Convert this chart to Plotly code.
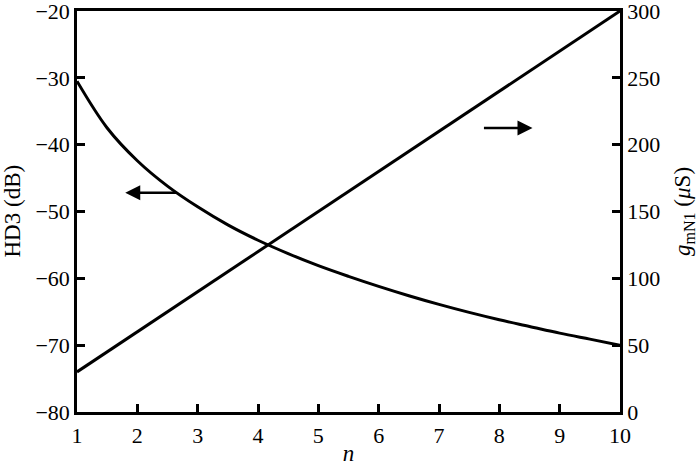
import plotly.graph_objects as go

n_vals = [1, 1.5, 2, 2.5, 3, 3.5, 4, 4.5, 5, 5.5, 6, 6.5, 7, 7.5, 8, 8.5, 9, 9.5, 10]
hd3_db = [-30.5, -37.5, -42.4, -46.2, -49.3, -52.0, -54.3, -56.3, -58.1, -59.7,
          -61.2, -62.6, -63.9, -65.1, -66.2, -67.2, -68.2, -69.1, -70.0]
gm_n = [1, 10]
gm_us = [30, 300]

x_ticks = [1, 2, 3, 4, 5, 6, 7, 8, 9, 10]
y1_ticks = [-80, -70, -60, -50, -40, -30, -20]
y2_ticks = [0, 50, 100, 150, 200, 250, 300]

FONT = "Liberation Serif"
TICK_SIZE = 22
TITLE_SIZE = 23

fig = go.Figure()
fig.add_trace(go.Scatter(x=n_vals, y=hd3_db, mode="lines", line=dict(color="black", width=3, shape="spline"),
                         yaxis="y", showlegend=False))
fig.add_trace(go.Scatter(x=gm_n, y=gm_us, mode="lines", line=dict(color="black", width=3),
                         yaxis="y2", showlegend=False))

axis_common = dict(showgrid=False, zeroline=False, showline=True, linecolor="black", linewidth=2.5,
                   ticks="inside", ticklen=8, tickwidth=2.5, tickcolor="black", automargin=False,
                   ticklabeloverflow="allow",
                   tickfont=dict(family=FONT, size=TICK_SIZE, color="black"))

fig.update_layout(
    width=700, height=466,
    margin=dict(l=77, r=80, t=11, b=54),
    plot_bgcolor="white", paper_bgcolor="white",
    font=dict(family=FONT, size=TICK_SIZE, color="black"),
    xaxis=dict(range=[1, 10], tickvals=x_ticks, mirror=True, ticklabelstandoff=2,
               title=dict(text="<i>n</i>", standoff=12, font=dict(family=FONT, size=TITLE_SIZE)),
               **axis_common),
    yaxis=dict(range=[-80, -20], tickvals=y1_ticks, **axis_common),
    yaxis2=dict(range=[0, 300], tickvals=y2_ticks, overlaying="y", side="right",
                title=dict(text="<i>g</i><sub>mN1</sub> (<i>μ</i>S)", standoff=15,
                           font=dict(family=FONT, size=TITLE_SIZE)),
                **axis_common),
)

# left axis title placed as rotated text in the margin
fig.add_annotation(text="HD3 (dB)", xref="paper", yref="paper", x=-65 / 543, y=0.5,
                   xanchor="center", yanchor="middle", textangle=-90, showarrow=False,
                   font=dict(family=FONT, size=TITLE_SIZE, color="black"))

# arrows
fig.add_annotation(x=1.80, y=-47.2, ax=2.67, ay=-47.2, xref="x", yref="y", axref="x", ayref="y",
                   text="", showarrow=True, arrowhead=2, arrowsize=1.2, arrowwidth=2.5, arrowcolor="black")
fig.add_annotation(x=8.55, y=-37.5, ax=7.72, ay=-37.5, xref="x", yref="y", axref="x", ayref="y",
                   text="", showarrow=True, arrowhead=2, arrowsize=1.2, arrowwidth=2.5, arrowcolor="black")

fig.write_html("out.html", config={"displayModeBar": False},
               post_script="document.body.style.margin='0';")
